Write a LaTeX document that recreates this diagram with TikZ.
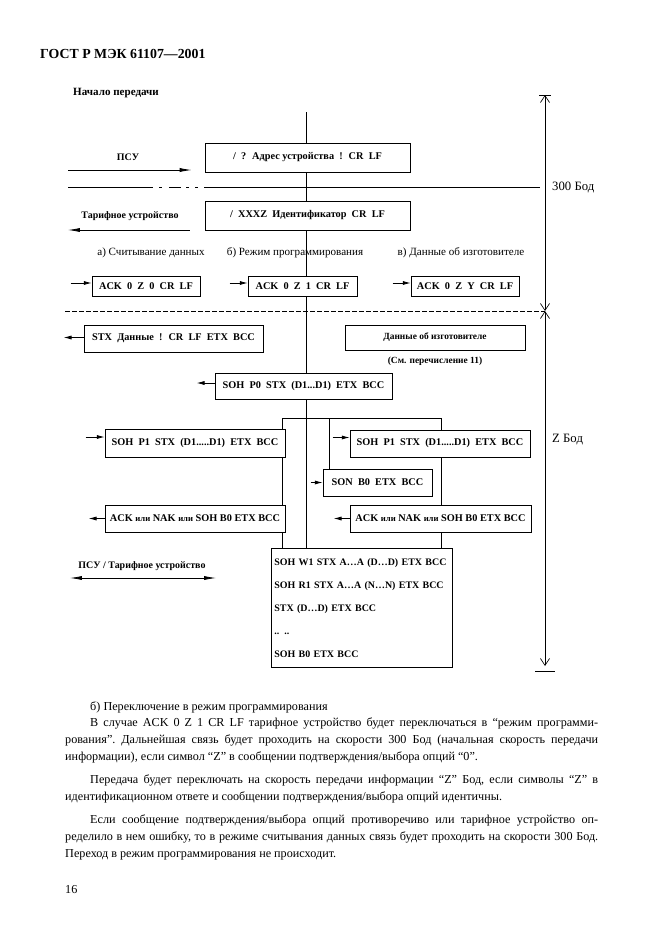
\documentclass[tikz,border=0pt]{standalone}
\usepackage{fontspec}
\setmainfont{Liberation Serif}
\usetikzlibrary{
    arrows.meta,
    positioning,
    calc,
    backgrounds
}

\newdimen\pxu
\pxu=0.3175mm
\newcommand{\bodyindent}{\hspace*{25\pxu}}
\newcommand{\orword}{{\fontsize{7.8}{9}\selectfont или}}

\tikzset{
    msg/.style={draw, fill=white, line width=0.6pt, inner sep=0pt,
        font=\bfseries\fontsize{9.3}{11}\selectfont},
    lbl/.style={font=\bfseries\fontsize{9}{11}\selectfont},
    modetext/.style={font=\fontsize{10}{12}\selectfont},
    baud/.style={anchor=west, inner sep=0pt, font=\fontsize{11.5}{13}\selectfont},
    wire/.style={line width=0.6pt},
    small arrow/.style={line width=0.7pt, -{Latex[length=2.5mm,width=1.3mm]}},
    big arrow/.style={line width=0.7pt, -{Latex[length=3.8mm,width=1.3mm]}},
    baudspan/.style={line width=0.6pt,
        {Straight Barb[length=2.2mm,width=2.9mm]}-{Straight Barb[length=2.2mm,width=2.9mm]}}
}

\begin{document}
\begin{tikzpicture}[>=latex, x=0.3175mm, y=-0.3175mm]
    \useasboundingbox (0,0) rectangle (661,936);

    \node[anchor=base west, inner sep=0pt, font=\bfseries\fontsize{12.5}{14}\selectfont] (title) at (40,58) {ГОСТ Р МЭК 61107—2001};
    \node[anchor=base west, inner sep=0pt, lbl, font=\bfseries\fontsize{10}{12}\selectfont] (start) at (73,95) {Начало передачи};

    % 300 Bd
    \node[msg, minimum width=205\pxu, minimum height=29\pxu] (adr) at (307.5,157.5) {/~ ?~ Адрес устройства~ !~ CR~ LF};
    \node[msg, minimum width=205\pxu, minimum height=29\pxu] (ident) at (307.5,215.5) {/~ XXXZ~ Идентификатор~ CR~ LF};

    \node[lbl] (psu) at (128,157) {ПСУ};
    \node[lbl] (meter) at (130,216) {Тарифное устройство};
    \coordinate (psuL) at (68,170);
    \coordinate (meterL) at (68,230);
    \draw[big arrow, shorten >=13\pxu] (psuL) -- (psuL -| adr.west);
    \draw[big arrow, shorten <=15\pxu] (meterL -| ident.west) -- (meterL);

    \node[modetext] (modeA) at (151,253) {а) Считывание данных};
    \node[modetext] (modeB) at (295,253) {б) Режим программирования};
    \node[modetext] (modeC) at (461,253) {в) Данные об изготовителе};

    \node[msg, minimum width=108\pxu, minimum height=20\pxu] (ackA) at (146,286) {ACK~ 0~ Z~ 0~ CR~ LF};
    \node[msg, minimum width=109\pxu, minimum height=20\pxu] (ackB) at (302.5,286) {ACK~ 0~ Z~ 1~ CR~ LF};
    \node[msg, minimum width=108\pxu, minimum height=20\pxu] (ackC) at (465,286) {ACK~ 0~ Z~ Y~ CR~ LF};
    \draw[small arrow] ([xshift=-21\pxu,yshift=3\pxu]ackA.west) -- ([yshift=3\pxu]ackA.west);
    \draw[small arrow] ([xshift=-18\pxu,yshift=3\pxu]ackB.west) -- ([yshift=3\pxu]ackB.west);
    \draw[small arrow] ([xshift=-18\pxu,yshift=3\pxu]ackC.west) -- ([yshift=3\pxu]ackC.west);

    % Z Bd
    \node[msg, minimum width=179\pxu, minimum height=27\pxu] (data) at (173.5,338.5) {STX~ Данные~ !~ CR~ LF~ ETX~ BCC};
    \node[msg, minimum width=180\pxu, minimum height=25\pxu, font=\bfseries\fontsize{8.5}{10}\selectfont] (maker) at (435,337.5) {Данные об изготовителе};
    \node[lbl, font=\bfseries\fontsize{8.5}{10}\selectfont] (makerref) at (435,361) {(См. перечисление 11)};
    \draw[small arrow] ([yshift=1\pxu]data.west) -- ([xshift=-20\pxu,yshift=1\pxu]data.west);

    \node[msg, minimum width=177\pxu, minimum height=26\pxu] (pzero) at (303.5,386) {SOH~ P0~ STX~ (D1...D1)~ ETX~ BCC};
    \draw[small arrow] ([yshift=3\pxu]pzero.west) -- ([xshift=-18\pxu,yshift=3\pxu]pzero.west);

    \node[msg, minimum width=180\pxu, minimum height=28\pxu] (poneL) at (195,443) {SOH~ P1~ STX~ (D1.....D1)~ ETX~ BCC};
    \node[msg, minimum width=180\pxu, minimum height=27\pxu] (poneR) at (440,443.5) {SOH~ P1~ STX~ (D1.....D1)~ ETX~ BCC};
    \node[msg, minimum width=109\pxu, minimum height=27\pxu] (break) at (377.5,482.5) {SON~ B0~ ETX~ BCC};
    \node[msg, minimum width=180\pxu, minimum height=27\pxu] (replyL) at (195,518.5) {ACK \orword{} NAK \orword{} SOH B0 ETX BCC};
    \node[msg, minimum width=181\pxu, minimum height=27\pxu] (replyR) at (440.5,518.5) {ACK \orword{} NAK \orword{} SOH B0 ETX BCC};
    \draw[small arrow] ([xshift=-19\pxu,yshift=6\pxu]poneL.west) -- ([yshift=6\pxu]poneL.west);
    \draw[small arrow] ([xshift=-17\pxu,yshift=6\pxu]poneR.west) -- ([yshift=6\pxu]poneR.west);
    \draw[small arrow] ([xshift=-12\pxu]break.west) -- (break.west);
    \draw[small arrow] (replyL.west) -- ([xshift=-16\pxu]replyL.west);
    \draw[small arrow] (replyR.west) -- ([xshift=-16\pxu]replyR.west);

    \node[msg, anchor=north west, minimum width=181\pxu, minimum height=119\pxu,
        inner xsep=3\pxu, text width=175\pxu, align=left,
        font=\bfseries\fontsize{9}{23\pxu}\selectfont] (prog) at (271,548)
        {SOH W1 STX A…A (D…D) ETX BCC\\SOH R1 STX A…A (N…N) ETX BCC\\STX (D…D) ETX BCC\\.. ..\\SOH B0 ETX BCC};

    \node[lbl] (both) at (142,566) {ПСУ / Тарифное устройство};
    \coordinate (bothL) at (70,578);
    \coordinate (bothR) at (216,578);
    \draw[big arrow, {Latex[length=3.8mm,width=1.3mm]}-{Latex[length=3.8mm,width=1.3mm]}] (bothL) -- (bothR);

    % lines behind the boxes
    \coordinate (mainTop) at (306,112);
    \coordinate (forkL) at (282,418);
    \coordinate (forkM) at (329,418);
    \coordinate (forkR) at (441,418);
    \begin{scope}[on background layer]
        \draw[wire] (mainTop) -- (mainTop |- prog.north);
        \draw[wire] (forkL |- prog.north) -- (forkL) -- (forkR) -- (forkR |- prog.north);
        \draw[wire] (forkM) -- (forkM |- break.north);
    \end{scope}

    % speed ranges
    \coordinate (zTop) at (545,95);
    \coordinate (zMid) at (545,311);
    \coordinate (zBot) at (545,666);
    \draw[wire, dash pattern=on 85\pxu off 6\pxu on 3\pxu off 7\pxu on 12\pxu off 5\pxu on 3\pxu off 6\pxu on 3\pxu off 6\pxu on 400\pxu]
        (68,187) -- (540,187);
    \draw[wire, dash pattern=on 5\pxu off 2\pxu] (65,311) -- (zMid);
    \draw[baudspan] (zTop) -- (zMid);
    \draw[baudspan] (zMid) -- (zBot);
    \draw[wire] ($(zTop)+(-6,0)$) -- ($(zTop)+(6,0)$);
    \draw[wire] ($(zBot)+(-10,5)$) -- ($(zBot)+(10,5)$);
    \node[baud] (slow) at (552,187) {300 Бод};
    \node[baud] (fast) at (552,440) {Z Бод};

    % text below
    \node[anchor=base west, inner sep=0pt, text width=533\pxu, align=justify,
        font=\fontsize{11}{15.3}\selectfont] (body) at (65,710) {%
        \frenchspacing \hyphenpenalty=10000 \tolerance=10000
        \bodyindent б)~Переключение в режим программирования\par
        \bodyindent В случае ACK 0 Z 1 CR LF тарифное устройство будет переключаться в “режим программи-\linebreak рования”. Дальнейшая связь будет проходить на скорости 300 Бод (начальная скорость передачи\linebreak информации), если символ “Z” в сообщении подтверждения/выбора опций “0”.\par
        \vspace{6\pxu}
        \bodyindent Передача будет переключать на скорость передачи информации “Z” Бод, если символы “Z” в\linebreak идентификационном ответе и сообщении подтверждения/выбора опций идентичны.\par
        \vspace{6\pxu}
        \bodyindent Если сообщение подтверждения/выбора опций противоречиво или тарифное устройство оп-\linebreak ределило в нем ошибку, то в режиме считывания данных связь будет проходить на скорости 300 Бод.\linebreak Переход в режим программирования не происходит.};
    \node[anchor=base west, inner sep=0pt, font=\fontsize{11}{13}\selectfont] (page) at (65,893) {16};
\end{tikzpicture}
\end{document}
